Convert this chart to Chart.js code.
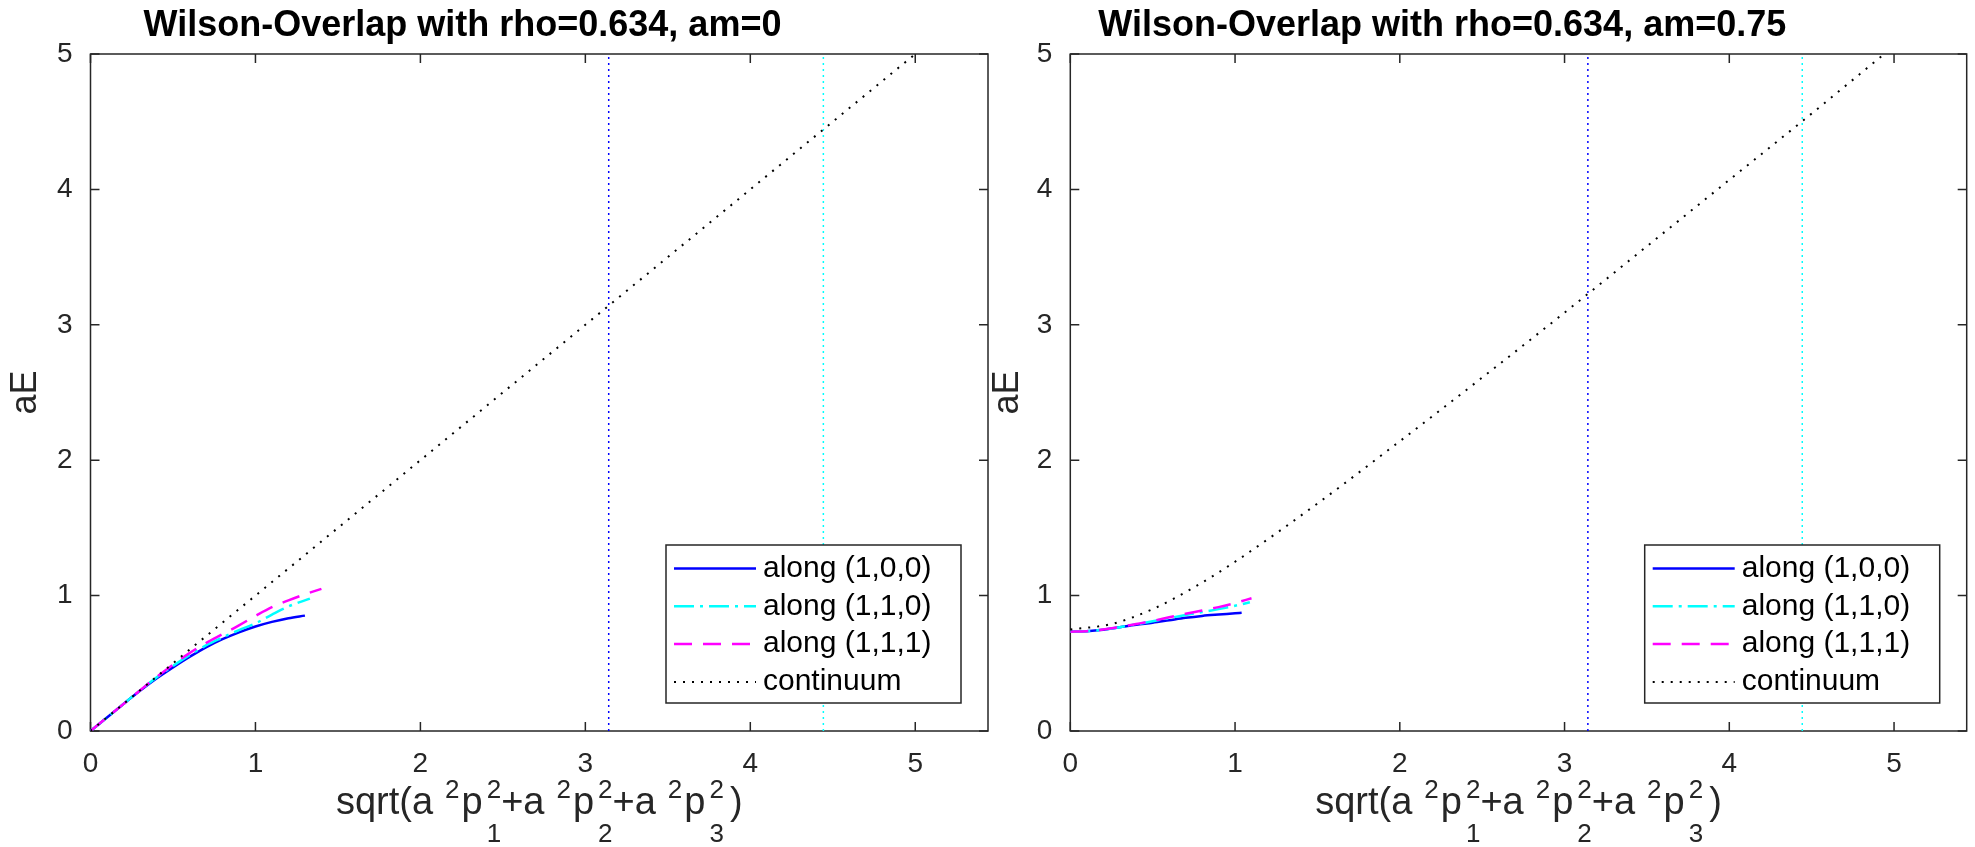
<!DOCTYPE html>
<html>
<head>
<meta charset="utf-8">
<title>Wilson-Overlap dispersion</title>
<script src="https://cdn.jsdelivr.net/npm/chart.js@4.4.0/dist/chart.umd.min.js"></script>
<style>
body { margin: 0; background: #fff; }
#left { position: absolute; left: 0; top: 0; }
#right { position: absolute; left: 982px; top: 0; }
</style>
</head>
<body>
<canvas id="left" width="995" height="847"></canvas>
<canvas id="right" width="993" height="847"></canvas>
<script>
const XTicks = [0, 1, 2, 3, 4, 5];
const YTicks = [0, 1, 2, 3, 4, 5];
const XMax = 5.441;
const YMax = 5;

const LegendLabels = ["along (1,0,0)", "along (1,1,0)", "along (1,1,1)", "continuum"];

// dotted verticals (pi and sqrt(2)*pi)
const CutBlueX = 3.1416;
const CutCyanX = 4.4429;

// am = 0
const Am0_100_X = [0, 0.1, 0.2, 0.3, 0.4, 0.5, 0.6, 0.7, 0.8, 0.9, 1.0, 1.1, 1.2, 1.3];
const Am0_100_Y = [0, 0.1, 0.2, 0.297, 0.388, 0.47, 0.547, 0.618, 0.678, 0.729, 0.772, 0.806, 0.833, 0.852];
const Am0_110_X = [0, 0.1, 0.2, 0.3, 0.4, 0.5, 0.6, 0.7, 0.8, 0.9, 1.0, 1.1, 1.2, 1.33];
const Am0_110_Y = [0, 0.1, 0.2, 0.3, 0.395, 0.48, 0.56, 0.632, 0.69, 0.745, 0.795, 0.86, 0.92, 0.978];
const Am0_111_X = [0, 0.1, 0.2, 0.3, 0.4, 0.5, 0.6, 0.7, 0.8, 0.9, 1.0, 1.1, 1.2, 1.3, 1.4];
const Am0_111_Y = [0, 0.1, 0.2, 0.3, 0.398, 0.49, 0.575, 0.65, 0.715, 0.78, 0.85, 0.915, 0.965, 1.01, 1.05];
const Am0_ContX = [0, 1, 2, 3, 4, 5];
const Am0_ContY = [0, 1, 2, 3, 4, 5];

// am = 0.75
const Am75_100_X = [0, 0.1, 0.2, 0.3, 0.4, 0.5, 0.6, 0.7, 0.8, 0.9, 1.0, 1.04];
const Am75_100_Y = [0.733, 0.737, 0.748, 0.766, 0.785, 0.8, 0.818, 0.836, 0.85, 0.86, 0.869, 0.873];
const Am75_110_X = [0, 0.1, 0.2, 0.3, 0.4, 0.5, 0.6, 0.7, 0.8, 0.9, 1.0, 1.09];
const Am75_110_Y = [0.733, 0.737, 0.749, 0.767, 0.788, 0.81, 0.834, 0.857, 0.878, 0.9, 0.925, 0.951];
const Am75_111_X = [0, 0.1, 0.2, 0.3, 0.4, 0.5, 0.6, 0.7, 0.8, 0.9, 1.0, 1.1];
const Am75_111_Y = [0.733, 0.737, 0.75, 0.768, 0.79, 0.813, 0.84, 0.866, 0.89, 0.915, 0.945, 0.98];
const Am75_ContX = [0, 0.25, 0.5, 0.75, 1.0, 1.5, 2.0, 2.5, 3.0, 3.5, 4.0, 4.5, 4.94];
const Am75_ContY = [0.75, 0.79, 0.9, 1.06, 1.25, 1.68, 2.14, 2.61, 3.09, 3.58, 4.07, 4.56, 5.0];

const FontFamily = "'Liberation Sans', Arial, Helvetica, sans-serif";
const AxisColor = '#262626';

const LineStyles = [
    { color: '#0000ff', width: 2.5, dash: [] },
    { color: '#00ffff', width: 2.5, dash: [20, 6, 3, 6] },
    { color: '#ff00ff', width: 2.5, dash: [18, 11] },
    { color: '#000000', width: 2, dash: [2, 7] }
];

// x label: sqrt(a ^2p^2_1+a ^2p^2_2+a ^2p^2_3)
const XLabelParts = [
    { k: 'n', t: 'sqrt(a' },
    { k: 'sup', t: '2', gap: 12 },
    { k: 'n', t: 'p', gap: 2 },
    { k: 'stack', t: '2', b: '1', gap: 4 },
    { k: 'n', t: '+a' },
    { k: 'sup', t: '2', gap: 12 },
    { k: 'n', t: 'p', gap: 2 },
    { k: 'stack', t: '2', b: '2', gap: 4 },
    { k: 'n', t: '+a' },
    { k: 'sup', t: '2', gap: 12 },
    { k: 'n', t: 'p', gap: 2 },
    { k: 'stack', t: '2', b: '3', gap: 4 },
    { k: 'n', t: ')', gap: 6 }
];

function toPoints(xs, ys) {
    return xs.map(function (x, i) { return { x: x, y: ys[i] }; });
}

function lineSet(xs, ys, style, order) {
    return {
        data: toPoints(xs, ys),
        showLine: true,
        borderColor: style.color,
        borderWidth: style.width,
        borderDash: style.dash,
        borderCapStyle: 'butt',
        pointRadius: 0,
        fill: false,
        cubicInterpolationMode: 'monotone',
        order: order
    };
}

function cutSet(x, color) {
    return {
        data: toPoints([x, x], [0, YMax]),
        showLine: true,
        borderColor: color,
        borderWidth: 1.5,
        borderDash: [2, 4],
        pointRadius: 0,
        fill: false,
        order: 5
    };
}

function drawXLabel(ctx, area) {
    var mainFont = '38px ' + FontFamily;
    var smallFont = '26px ' + FontFamily;
    var widths = XLabelParts.map(function (p) {
        ctx.font = p.k == 'n' ? mainFont : smallFont;
        var w = ctx.measureText(p.t).width;
        if (p.k == 'stack') w = Math.max(w, ctx.measureText(p.b).width);
        return w;
    });
    var total = 0;
    XLabelParts.forEach(function (p, i) { total += (p.gap || 0) + widths[i]; });
    var x = (area.left + area.right) / 2 - total / 2;
    var base = 814;
    ctx.fillStyle = AxisColor;
    ctx.textAlign = 'left';
    ctx.textBaseline = 'alphabetic';
    XLabelParts.forEach(function (p, i) {
        x += p.gap || 0;
        if (p.k == 'n') {
            ctx.font = mainFont;
            ctx.fillText(p.t, x, base);
        } else {
            ctx.font = smallFont;
            ctx.fillText(p.t, x, base - 16);
            if (p.k == 'stack') ctx.fillText(p.b, x, base + 28);
        }
        x += widths[i];
    });
}

function drawLegend(ctx, area) {
    var w = 295, h = 158;
    var right = area.right - 27, bottom = area.bottom - 28;
    var left = right - w, top = bottom - h;
    ctx.fillStyle = '#fff';
    ctx.fillRect(left, top, w, h);
    ctx.strokeStyle = AxisColor;
    ctx.lineWidth = 1.5;
    ctx.setLineDash([]);
    ctx.strokeRect(left, top, w, h);
    ctx.font = '30px ' + FontFamily;
    ctx.textAlign = 'left';
    ctx.textBaseline = 'middle';
    LegendLabels.forEach(function (label, i) {
        var y = top + 23.5 + i * 37.8;
        var s = LineStyles[i];
        ctx.strokeStyle = s.color;
        ctx.lineWidth = s.width;
        ctx.setLineDash(s.dash);
        ctx.beginPath();
        ctx.moveTo(left + 8, y);
        ctx.lineTo(left + 90, y);
        ctx.stroke();
        ctx.setLineDash([]);
        ctx.fillStyle = '#000';
        ctx.fillText(label, left + 97, y);
    });
}

const decor = {
    id: 'decor',
    beforeDatasetsDraw: function (chart) {
        var ctx = chart.ctx, a = chart.chartArea;
        var xs = chart.scales.x, ys = chart.scales.y;
        ctx.save();
        ctx.strokeStyle = AxisColor;
        ctx.lineWidth = 1.5;
        ctx.strokeRect(a.left, a.top, a.right - a.left, a.bottom - a.top);
        ctx.beginPath();
        XTicks.forEach(function (v) {
            var px = xs.getPixelForValue(v);
            ctx.moveTo(px, a.bottom); ctx.lineTo(px, a.bottom - 9);
            ctx.moveTo(px, a.top); ctx.lineTo(px, a.top + 9);
        });
        YTicks.forEach(function (v) {
            var py = ys.getPixelForValue(v);
            ctx.moveTo(a.left, py); ctx.lineTo(a.left + 9, py);
            ctx.moveTo(a.right, py); ctx.lineTo(a.right - 9, py);
        });
        ctx.stroke();
        ctx.restore();
    },
    afterDatasetsDraw: function (chart, args, opts) {
        var ctx = chart.ctx, a = chart.chartArea;
        ctx.save();
        drawLegend(ctx, a);
        ctx.fillStyle = '#000';
        ctx.font = 'bold 36px ' + FontFamily;
        ctx.textAlign = 'center';
        ctx.textBaseline = 'alphabetic';
        ctx.fillText(opts.title, a.left + 372, 36);
        drawXLabel(ctx, a);
        ctx.restore();
    }
};

function makeChart(canvasId, title, sets, yWidth, padRight) {
    return new Chart(document.getElementById(canvasId), {
        type: 'scatter',
        data: {
            datasets: [
                lineSet(sets[0][0], sets[0][1], LineStyles[0], 3),
                lineSet(sets[1][0], sets[1][1], LineStyles[1], 2),
                lineSet(sets[2][0], sets[2][1], LineStyles[2], 1),
                lineSet(sets[3][0], sets[3][1], LineStyles[3], 0),
                cutSet(CutBlueX, '#0000ff'),
                cutSet(CutCyanX, '#00ffff')
            ]
        },
        plugins: [decor],
        options: {
            responsive: false,
            animation: false,
            devicePixelRatio: 1,
            layout: { padding: { top: 54, right: padRight, left: 0, bottom: 0 } },
            plugins: {
                legend: { display: false },
                tooltip: { enabled: false },
                decor: { title: title }
            },
            scales: {
                x: {
                    type: 'linear',
                    min: 0,
                    max: XMax,
                    afterBuildTicks: function (s) { s.ticks = XTicks.map(function (v) { return { value: v }; }); },
                    afterFit: function (s) { s.height = 116; },
                    grid: { display: false, drawTicks: false },
                    border: { display: false },
                    ticks: { font: { family: FontFamily, size: 28 }, color: AxisColor, padding: 16, maxRotation: 0, autoSkip: false }
                },
                y: {
                    type: 'linear',
                    min: 0,
                    max: YMax,
                    afterBuildTicks: function (s) { s.ticks = YTicks.map(function (v) { return { value: v }; }); },
                    afterFit: function (s) { s.width = yWidth; },
                    grid: { display: false, drawTicks: false },
                    border: { display: false },
                    ticks: { font: { family: FontFamily, size: 28 }, color: AxisColor, padding: 18 },
                    title: { display: true, text: 'aE', font: { family: FontFamily, size: 36 }, color: AxisColor, padding: { top: 4, bottom: 0 } }
                }
            }
        }
    });
}

var leftChart = makeChart('left', 'Wilson-Overlap with rho=0.634, am=0', [
    [Am0_100_X, Am0_100_Y],
    [Am0_110_X, Am0_110_Y],
    [Am0_111_X, Am0_111_Y],
    [Am0_ContX, Am0_ContY]
], 90.5, 7);

var rightChart = makeChart('right', 'Wilson-Overlap with rho=0.634, am=0.75', [
    [Am75_100_X, Am75_100_Y],
    [Am75_110_X, Am75_110_Y],
    [Am75_111_X, Am75_111_Y],
    [Am75_ContX, Am75_ContY]
], 88.3, 8.3);
</script>
</body>
</html>
